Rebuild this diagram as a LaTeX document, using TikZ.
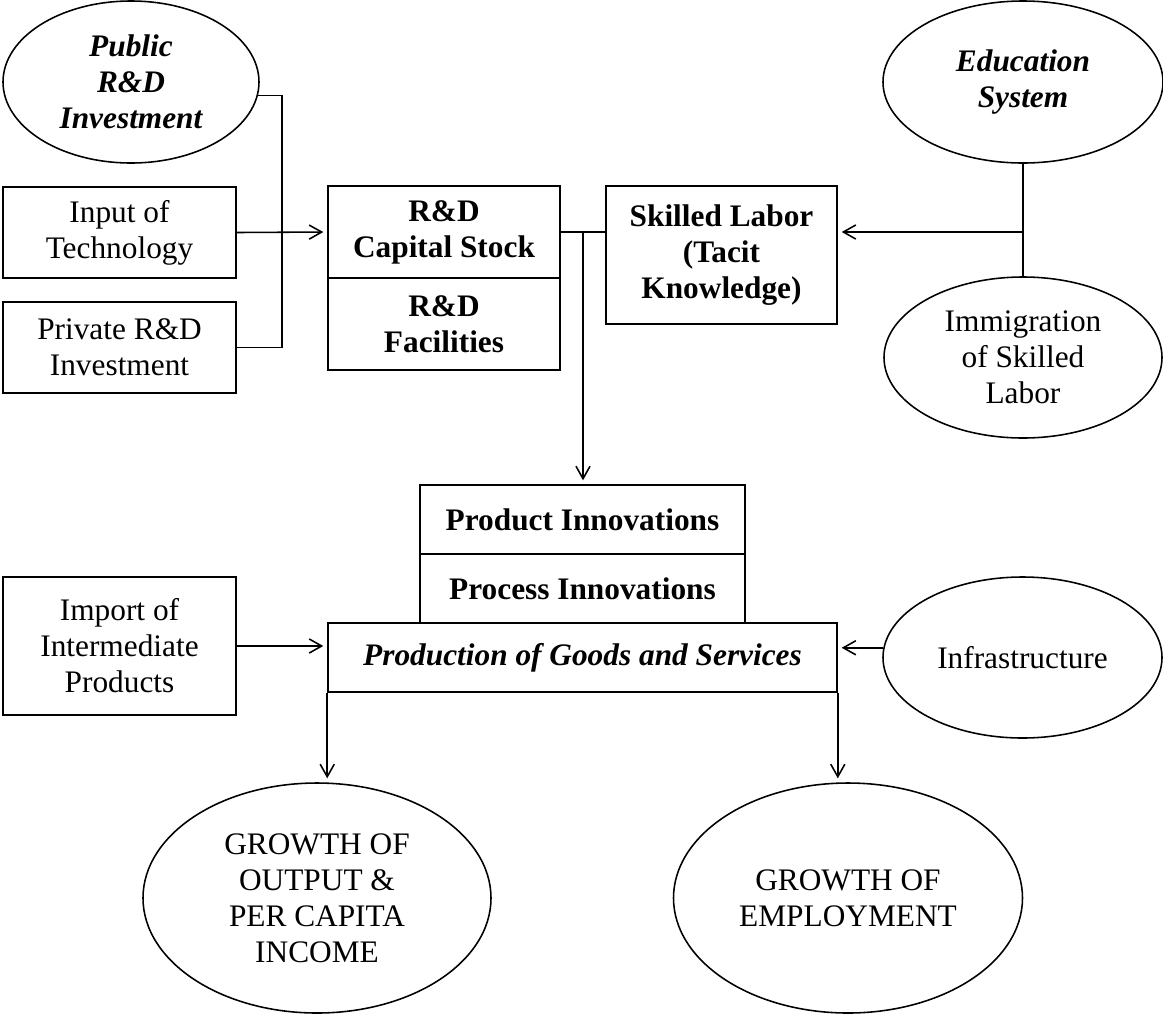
\documentclass[tikz,border=0pt]{standalone}
\usepackage{fontspec}
\setmainfont{Liberation Serif}
\usetikzlibrary{shapes.geometric,arrows.meta}

\def\pxl{0.383pt}

\begin{document}
\begin{tikzpicture}[x=0.383pt,y=-0.383pt,line width=0.6pt,
  txt/.style={inner sep=0pt,align=center,font=\fontsize{12}{13.8}\selectfont},
  box/.style={txt,draw,rectangle},
  oval/.style={txt,draw,ellipse},
  arr/.style={-{Straight Barb[length=4.8pt,width=5.4pt]},shorten >=1.5pt}]

\useasboundingbox (0,0) rectangle (1163,1015);

\node[oval,minimum width=256*\pxl,minimum height=162*\pxl] (pub) at (131,82)
  {\bfseries\itshape Public\\\bfseries\itshape R\&D\\\bfseries\itshape Investment};
\node[box,minimum width=233*\pxl,minimum height=91*\pxl] (input) at (119.5,232.5)
  {Input of\\Technology};
\node[box,minimum width=233*\pxl,minimum height=91*\pxl] (priv) at (119.5,347.5)
  {Private R\&D\\Investment};
\node[box,minimum width=232*\pxl,minimum height=92*\pxl] (cap) at (444,232)
  {\bfseries R\&D\\\bfseries Capital Stock};
\node[box,minimum width=232*\pxl,minimum height=92*\pxl] (fac) at (444,324)
  {\bfseries R\&D\\\bfseries Facilities};
\node[box,minimum width=231*\pxl,minimum height=138*\pxl] (skill) at (721.5,255)
  {\bfseries Skilled Labor\\\bfseries (Tacit\\\bfseries Knowledge)};
\node[oval,minimum width=280*\pxl,minimum height=162*\pxl] (edu) at (1023,82)
  {\bfseries\itshape Education\\\bfseries\itshape System};
\node[oval,minimum width=278*\pxl,minimum height=161*\pxl] (immi) at (1023,357.5)
  {Immigration\\of Skilled\\Labor};

\node[box,minimum width=325*\pxl,minimum height=69*\pxl] (prodinn) at (582.5,519.5)
  {\bfseries Product Innovations};
\node[box,minimum width=325*\pxl,minimum height=69*\pxl] (procinn) at (582.5,588.5)
  {\bfseries Process Innovations};
\node[box,minimum width=509*\pxl,minimum height=69*\pxl] (goods) at (582.5,657.5)
  {\bfseries\itshape Production of Goods and Services};
\node[box,minimum width=233*\pxl,minimum height=138*\pxl] (import) at (119.5,646)
  {Import of\\Intermediate\\Products};
\node[oval,minimum width=279*\pxl,minimum height=161*\pxl] (infra) at (1022.5,657.5)
  {Infrastructure};

\node[oval,minimum width=348*\pxl,minimum height=230*\pxl] (outp) at (317,898)
  {GROWTH OF\\OUTPUT \&\\PER CAPITA\\INCOME};
\node[oval,minimum width=349*\pxl,minimum height=230*\pxl] (empl) at (848,898)
  {GROWTH OF\\EMPLOYMENT};

\coordinate (join) at (282,232);
\coordinate (split) at (583,232);
\coordinate (edujoin) at (1023,232);

\draw (pub.-6) -| (join) |- (priv.east);
\draw[arr] (input.east) -- (cap.west);
\draw (cap.east) -- (cap.east -| skill.west);
\draw[arr] (split) -- (split |- prodinn.north);
\draw (edu.south) -- (immi.north);
\draw[arr] (edujoin) -- (edujoin -| skill.east);
\draw[arr] (import.east) -- (import.east -| goods.west);
\draw[arr] (infra.176) -- (infra.176 -| goods.east);
\draw[arr] (goods.south west) -- (goods.south west |- outp.north);
\draw[arr] (goods.south east) -- (goods.south east |- empl.north);

\end{tikzpicture}
\end{document}
